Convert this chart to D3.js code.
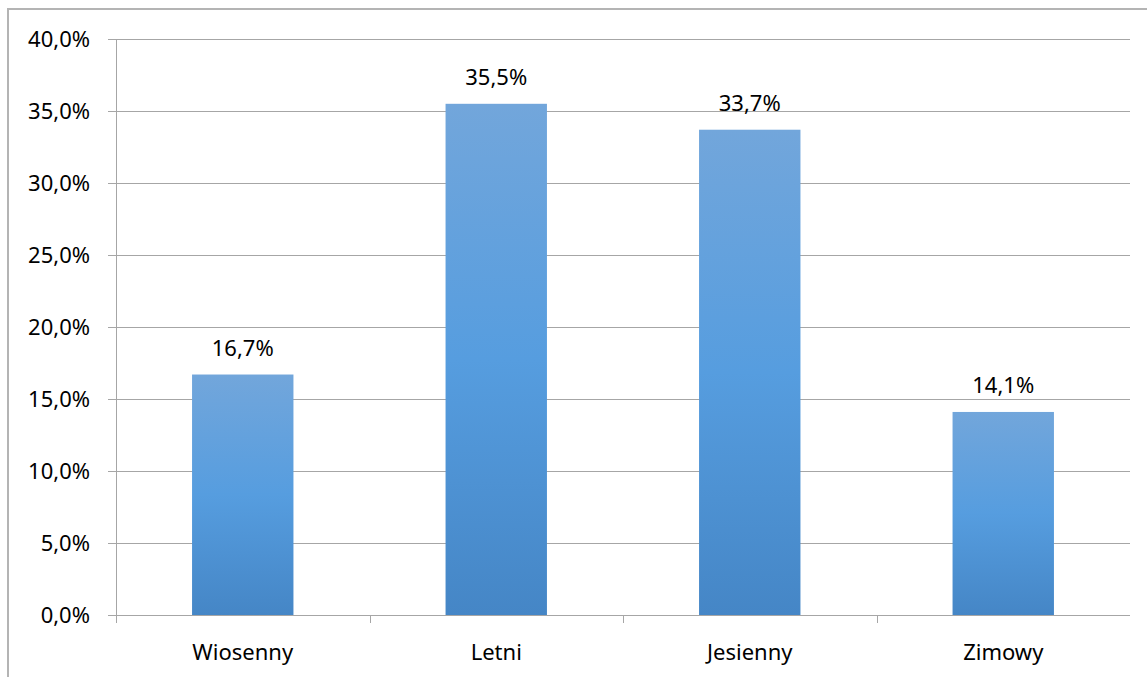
<!DOCTYPE html>
<html lang="pl">
<head>
<meta charset="UTF-8" />
<title>Wykres</title>
<script src="https://cdn.jsdelivr.net/npm/d3@7"></script>
<style>
  body { margin: 0; background: #fff; }
  svg text { font-family: "Noto Sans", "Open Sans", sans-serif; fill: #000; }
</style>
</head>
<body>
<script>
// dane
var categories = ["Wiosenny", "Letni", "Jesienny", "Zimowy"];
var values = [16.7, 35.5, 33.7, 14.1];
var yTicks = [0, 5, 10, 15, 20, 25, 30, 35, 40];

var w = 1147, h = 677;
// uwaga: "top" to zmienna okna, więc inne nazwy
var pL = 116, pR = 1130, pT = 39, pB = 615;
var fs = "22px";
var fmt = function(v) { return v.toFixed(1).replace(".", ",") + "%"; };

var svg = d3.select("body").append("svg")
  .attr("width", w).attr("height", h);

var defs = svg.append("defs");
var grad = defs.append("linearGradient")
  .attr("id", "barGrad")
  .attr("x1", 0).attr("y1", 0).attr("x2", 0).attr("y2", 1);
grad.append("stop").attr("offset", "0%").attr("stop-color", "#72a6db");
grad.append("stop").attr("offset", "50%").attr("stop-color", "#569ddf");
grad.append("stop").attr("offset", "100%").attr("stop-color", "#4586c6");

// ramka
svg.append("path")
  .attr("d", "M8," + h + "V9H" + w)
  .attr("fill", "none")
  .attr("stroke", "#b4b4b4")
  .attr("stroke-width", 2);

var x = d3.scaleBand().domain(categories).range([pL, pR]).paddingInner(0.6).paddingOuter(0.3);
var xBand = d3.scaleBand().domain(categories).range([pL, pR]);
var y = d3.scaleLinear().domain([0, 40]).range([pB, pT]);

// siatka
svg.append("g").selectAll("line")
  .data(yTicks)
  .enter()
  .append("line")
  .attr("x1", pL - 8).attr("x2", pR)
  .attr("y1", function(d) { return Math.round(y(d)) + 0.5; })
  .attr("y2", function(d) { return Math.round(y(d)) + 0.5; })
  .attr("stroke", "#a6a6a6")
  .attr("stroke-width", 1);

// oś Y
svg.append("line")
  .attr("x1", pL + 0.5).attr("x2", pL + 0.5)
  .attr("y1", pT).attr("y2", pB + 8)
  .attr("stroke", "#a6a6a6");

svg.append("g").selectAll("text")
  .data(yTicks)
  .enter()
  .append("text")
  .attr("x", 90)
  .attr("y", function(d) { return y(d) + 8; })
  .attr("text-anchor", "end")
  .style("font-size", fs)
  .text(fmt);

// znaczniki osi X
svg.append("g").selectAll("line")
  .data(categories.slice(1))
  .enter()
  .append("line")
  .attr("x1", function(d) { return Math.round(xBand(d)) + 0.5; })
  .attr("x2", function(d) { return Math.round(xBand(d)) + 0.5; })
  .attr("y1", pB).attr("y2", pB + 8)
  .attr("stroke", "#a6a6a6");

// słupki
svg.append("g").selectAll("rect")
  .data(values)
  .enter()
  .append("rect")
  .attr("x", function(d, i) { return x(categories[i]); })
  .attr("width", x.bandwidth())
  .attr("y", function(d) { return y(d); })
  .attr("height", function(d) { return pB - y(d); })
  .attr("fill", "url(#barGrad)");

// etykiety wartości
svg.append("g").selectAll("text")
  .data(values)
  .enter()
  .append("text")
  .attr("x", function(d, i) { return x(categories[i]) + x.bandwidth() / 2; })
  .attr("y", function(d) { return y(d) - 19; })
  .attr("text-anchor", "middle")
  .style("font-size", fs)
  .text(fmt);

// etykiety kategorii
svg.append("g").selectAll("text")
  .data(categories)
  .enter()
  .append("text")
  .attr("x", function(d) { return xBand(d) + xBand.bandwidth() / 2; })
  .attr("y", 660)
  .attr("text-anchor", "middle")
  .style("font-size", fs)
  .text(function(d) { return d; });
</script>
</body>
</html>
